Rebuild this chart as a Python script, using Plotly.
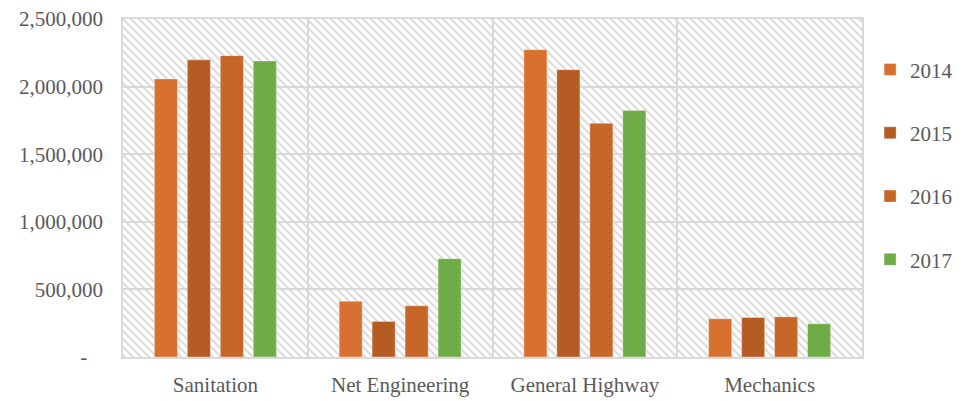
import base64
import plotly.graph_objects as go

# Funding by department, 2014-2017
categories = ["Sanitation", "Net Engineering", "General Highway", "Mechanics"]
years = ["2014", "2015", "2016", "2017"]
values_2014 = [2057000, 413000, 2273000, 283000]
values_2015 = [2198000, 263000, 2125000, 292000]
values_2016 = [2229000, 379000, 1728000, 297000]
values_2017 = [2190000, 727000, 1824000, 246000]
series = [values_2014, values_2015, values_2016, values_2017]
colors = ["#D8712F", "#B55C24", "#C76629", "#6FAC47"]

y_ticks = [0, 500000, 1000000, 1500000, 2000000, 2500000]
y_ticktext = ["-&nbsp;&nbsp;&nbsp;", "500,000", "1,000,000", "1,500,000", "2,000,000", "2,500,000"]

FONT = "Liberation Serif"
FSIZE = 21
TEXT_COLOR = "#595959"
GRID = "#d9d9d9"

fig = go.Figure()
for yr, vals, col in zip(years, series, colors):
    fig.add_trace(go.Bar(
        x=categories, y=vals, name=yr, legendgroup=yr,
        marker=dict(color=col, line=dict(color="rgba(255,255,255,0.35)", width=1)),
    ))

# diagonal hatch texture for the plot area
hatch_svg = (
    '<svg xmlns="http://www.w3.org/2000/svg" width="739" height="338">'
    '<defs><pattern id="h" width="8" height="8" patternUnits="userSpaceOnUse">'
    '<path d="M-2,-2 L10,10 M-2,6 L2,10 M6,-2 L10,2" stroke="#dcdcdc" stroke-width="2.2"/>'
    '</pattern></defs>'
    '<rect width="739" height="338" fill="url(#h)"/></svg>'
)
hatch_uri = "data:image/svg+xml;base64," + base64.b64encode(hatch_svg.encode()).decode()

fig.add_layout_image(dict(
    source=hatch_uri, xref="paper", yref="paper", x=0, y=1,
    sizex=1, sizey=1, xanchor="left", yanchor="top",
    sizing="stretch", layer="below",
))

fig.update_layout(
    width=970, height=401,
    margin=dict(l=123, r=108, t=19, b=44, autoexpand=False),
    paper_bgcolor="white", plot_bgcolor="white",
    barmode="group", bargap=0.286, bargroupgap=0.30,
    font=dict(family=FONT, size=FSIZE, color=TEXT_COLOR),
    showlegend=True,
    legend=dict(
        xref="container", yref="container",
        x=0.897, xanchor="left", y=0.589, yanchor="middle",
        maxheight=1,
        traceorder="grouped", tracegroupgap=33,
        font=dict(family=FONT, size=FSIZE, color=TEXT_COLOR),
        bgcolor="rgba(0,0,0,0)",
    ),
    xaxis=dict(
        type="category", tickson="boundaries", showgrid=True,
        gridcolor=GRID, gridwidth=1.5, ticks="", automargin=False,
        showline=True, linecolor=GRID, linewidth=2, mirror=True,
        tickfont=dict(size=FSIZE), ticklabelstandoff=8,
    ),
    yaxis=dict(
        range=[0, 2500000], tickvals=y_ticks, ticktext=y_ticktext,
        showgrid=True, gridcolor=GRID, gridwidth=1.5, zeroline=False,
        showline=True, linecolor=GRID, linewidth=1.5, mirror=True, automargin=False,
        ticks="", ticklabelstandoff=14, tickfont=dict(size=FSIZE),
    ),
)

fig.write_html("out.html")
